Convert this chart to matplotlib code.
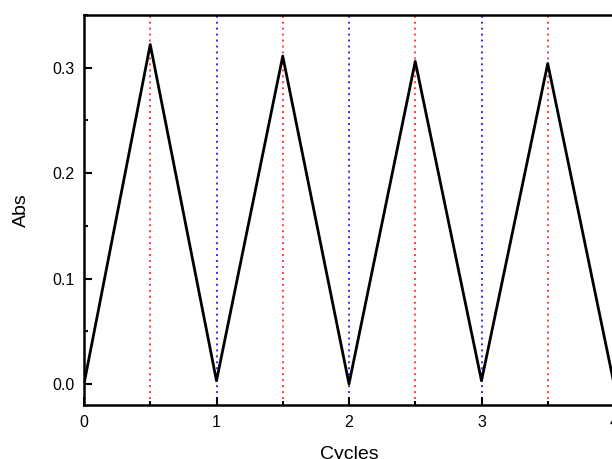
import numpy as np
import matplotlib
matplotlib.use("Agg")
import matplotlib.pyplot as plt
from matplotlib.ticker import MultipleLocator

plt.rcParams['font.family'] = ['Liberation Sans', 'DejaVu Sans']

# data
cycles = [0, 0.5, 1, 1.5, 2, 2.5, 3, 3.5, 4]
absorb = [0.0, 0.322, 0.003, 0.311, 0.0, 0.306, 0.003, 0.304, 0.0]
red_marks = [0.5, 1.5, 2.5, 3.5]
blue_marks = [1, 2, 3]

fig = plt.figure(figsize=(6.12, 4.59), dpi=100)
ax = fig.add_axes([84/612, 1-405/459, 530/612, 390/459])

for x in red_marks:
    ax.axvline(x, color='#ff3030', ls=(0, (1.1, 2.2)), lw=1.3, zorder=1)
for x in blue_marks:
    ax.axvline(x, color='#2020ff', ls=(0, (1.1, 2.2)), lw=1.3, zorder=1)

ax.plot(cycles, absorb, color='black', lw=2.0, zorder=2)

ax.set_xlim(0, 4)
ax.set_ylim(-0.02, 0.35)
ax.xaxis.set_major_locator(MultipleLocator(1))
ax.xaxis.set_minor_locator(MultipleLocator(0.5))
ax.yaxis.set_major_locator(MultipleLocator(0.1))
ax.yaxis.set_minor_locator(MultipleLocator(0.05))
ax.yaxis.set_major_formatter(plt.FuncFormatter(lambda v, p: "%.1f" % v))

ax.tick_params(which='both', direction='in', top=False, right=False, width=1.5, labelsize=11.5)
ax.tick_params(which='major', length=6, pad=7)
ax.tick_params(which='minor', length=3)
for s in ax.spines.values():
    s.set_linewidth(1.8)

ax.set_xlabel("Cycles", fontsize=14, labelpad=11.5)
ax.set_ylabel("Abs", fontsize=14, labelpad=16)

fig.savefig("out.png", dpi=100)
